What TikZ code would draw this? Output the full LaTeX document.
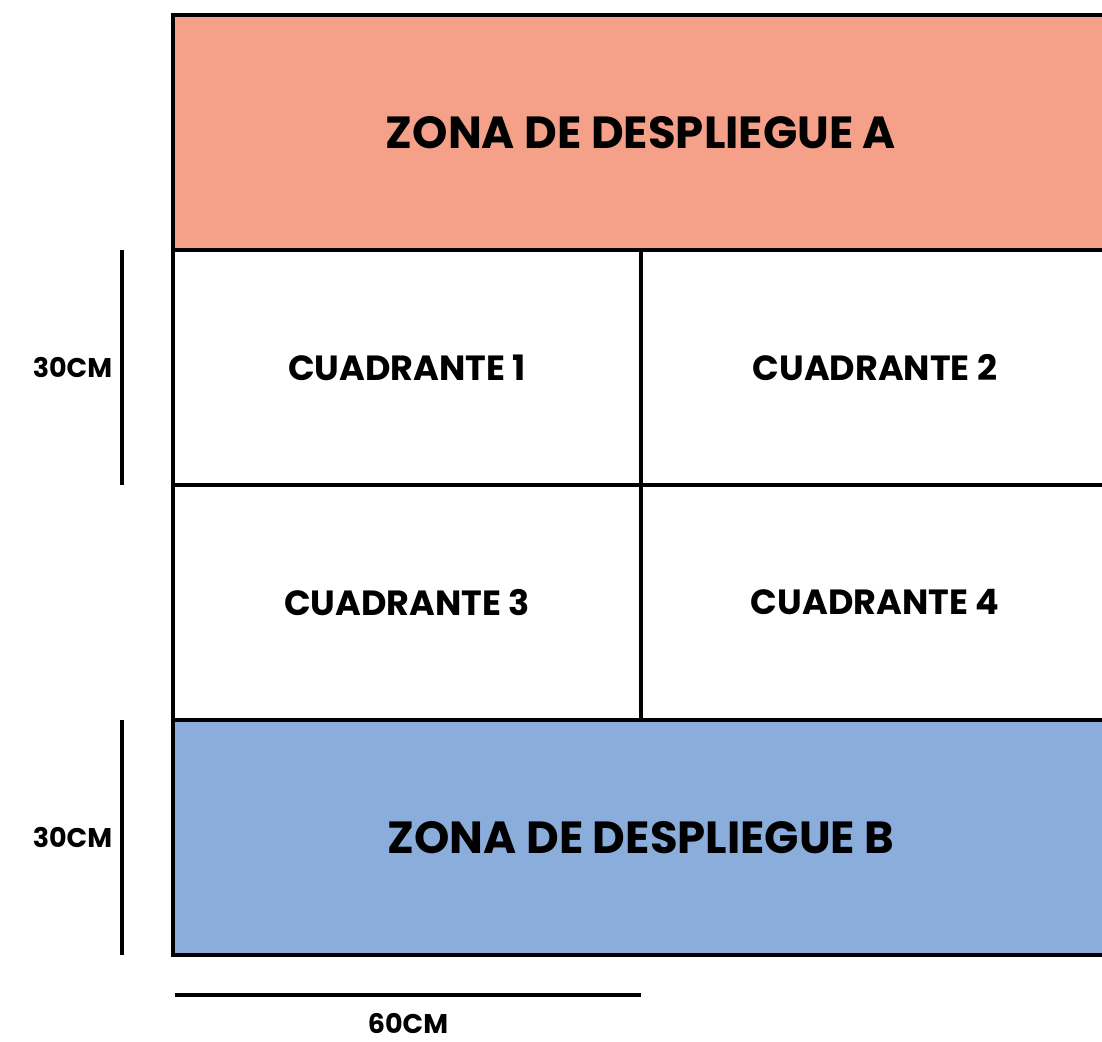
\documentclass[tikz,border=0pt]{standalone}
\usepackage{fontspec}
\setmainfont{Poppins}
\usetikzlibrary{positioning}
\definecolor{zonaA}{HTML}{F5A089}
\definecolor{zonaB}{HTML}{8AADDB}

\begin{document}
\begin{tikzpicture}[x=1pt,y=-1pt,line width=3.2pt,
			font=\bfseries]
			\tikzstyle{cell}=[draw,inner sep=0pt,outer sep=0pt,minimum width=468pt,minimum height=235pt,
				font=\bfseries\fontsize{35}{38}\selectfont]
			\tikzstyle{zone}=[cell,minimum width=936pt,font=\bfseries\fontsize{45}{48}\selectfont]
			\tikzstyle{dim}=[font=\bfseries\fontsize{27}{30}\selectfont]
			\useasboundingbox (0,0) rectangle (1102,1041);
			
			\node[zone, fill=zonaA] (zA) at (641,132.5) {ZONA DE DESPLIEGUE A};
			\node[cell, below=0pt of zA.south west, anchor=north west] (q1) {CUADRANTE 1};
			\node[cell, right=0pt of q1] (q2) {CUADRANTE 2};
			\node[cell, below=0pt of q1] (q3) {CUADRANTE 3};
			\node[cell, below=0pt of q2] (q4) {CUADRANTE 4};
			\node[zone, fill=zonaB, below=0pt of q3.south east] (zB) {ZONA DE DESPLIEGUE B};
			
			% cotas
			\coordinate (c1a) at ([xshift=-51pt]q1.north west);
			\coordinate (c1b) at ([xshift=-51pt]q1.south west);
			\coordinate (c2a) at ([xshift=-51pt]zB.north west);
			\coordinate (c2b) at ([xshift=-51pt]zB.south west);
			\coordinate (c3a) at ([xshift=2pt,yshift=-40pt]zB.south west);
			\coordinate (c3b) at ([xshift=466pt]c3a);
			\draw (c1a) -- (c1b) node[dim, midway, left=5pt] (l1) {30CM};
			\draw (c2a) -- (c2b) node[dim, midway, left=5pt] (l2) {30CM};
			\draw (c3a) -- (c3b) node[dim, midway, below=13pt] (l3) {60CM};
\end{tikzpicture}
\end{document}
